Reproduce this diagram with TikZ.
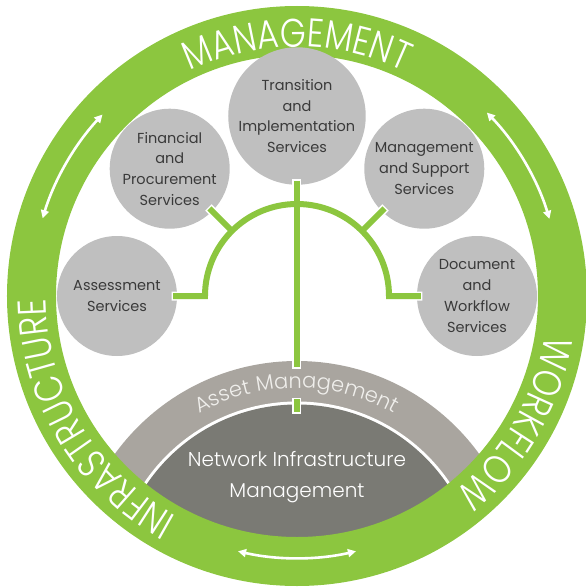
\documentclass[tikz,border=0pt]{standalone}
\usepackage{fontspec}
\setmainfont{Poppins}
\newfontfamily\ringfont{Poppins Light}[FakeStretch=0.83]
\newfontfamily\thinfont{Poppins Light}
\usepackage{tikz}
\usetikzlibrary{arrows.meta,positioning}
\usetikzlibrary{decorations.text}
\definecolor{RingGreen}{HTML}{8CC63F}
\definecolor{BubbleGrey}{HTML}{BFBFBF}
\definecolor{AssetGrey}{HTML}{A9A59F}
\definecolor{CoreGrey}{HTML}{7A7A74}
\definecolor{LabelGrey}{HTML}{3A3A3A}
\definecolor{AssetText}{HTML}{F0EFEC}
\tikzset{
        service/.style={circle, fill=BubbleGrey, minimum size=120pt, inner sep=0pt,
            align=center, text=LabelGrey, font=\fontsize{14.5}{20.7}\selectfont},
        ring arrow/.style={draw=white, line width=2.6pt, >={Triangle[length=8pt,width=8pt]}, <->},
        ring text/.style={decorate, decoration={text along path, text align=center,
            text={|\ringfont\fontsize{40}{40}\selectfont\color{white}|#1}}},
    }

\begin{document}
\begin{tikzpicture}[x = 1pt, y = 1pt]
                \useasboundingbox (-297,-291) rectangle (289,296);
                \coordinate (hub) at (0,0);
                \coordinate (assetc) at (0,-290);
                \coordinate (bandtop) at (0,-71);
                \coordinate (coretop) at (0,-103);
                \coordinate (corein) at (0,-116);
                \begin{scope}
                    \clip (hub) circle[radius=242];
                    \fill[AssetGrey] (assetc) circle[radius=225];
                    \fill[white] (assetc) circle[radius=184.5];
                    \fill[CoreGrey] (assetc) circle[radius=181.5];
                \end{scope}
                \fill[RingGreen, even odd rule] (hub) circle[radius=290] circle[radius=241];
                \path[ring text=MANAGEMENT] (165:249) arc[start angle=165, end angle=15, radius=249];
                \path[ring text=INFRASTRUCTURE] (286:251) arc[start angle=286, end angle=136, radius=251];
                \path[ring text=WORKFLOW] (47:251) arc[start angle=47, end angle=-107, radius=251];
                \draw[ring arrow] (137:266) arc[start angle=137, end angle=163, radius=266];
                \draw[ring arrow] (17:264) arc[start angle=17, end angle=44, radius=264];
                \draw[ring arrow] (257:262) arc[start angle=257, end angle=283, radius=262];
                \node[service] (trans) at (90:180) {Transition\\and\\Implementation\\Services};
                \node[service] (fin) at (135:180) {Financial\\and\\Procurement\\Services};
                \node[service] (mgmt) at (45:180) {Management\\and Support\\Services};
                \node[service] (assess) at (180:180) {Assessment\\Services};
                \node[service] (docwf) at (0:180) {Document\\and\\Workflow\\Services};
                \path[decorate, decoration={text along path, text align=center,
                    text={|\thinfont\fontsize{21}{21}\selectfont\color{AssetText}|Asset Management}}]
                    ([shift={(150:198)}]assetc) arc[start angle=150, end angle=30, radius=198];
                \node[text=white, align=center, font=\thinfont\fontsize{20}{31}\selectfont] (core) at (0,-181) {Network Infrastructure\\Management};
                \foreach \lc/\lw/\ext in {white/9/1.5, RingGreen/6/0}
                {
                    \draw[\lc, line width=\lw, shorten <=-\ext, shorten >=-\ext]
                        ([xshift=-4]assess.east) -- ([xshift=-92]hub)
                        arc[start angle=180, end angle=0, radius=92] -- ([xshift=4]docwf.west);
                    \draw[\lc, line width=\lw, shorten <=-\ext, shorten >=-\ext]
                        ([shift={(135:4)}]fin.south east) -- ([shift={(135:92)}]hub);
                    \draw[\lc, line width=\lw, shorten <=-\ext, shorten >=-\ext]
                        ([shift={(45:4)}]mgmt.south west) -- ([shift={(45:92)}]hub);
                    \draw[\lc, line width=\lw, shorten <=-\ext, shorten >=-\ext]
                        ([yshift=4]trans.south) -- (bandtop);
                    \draw[\lc, line width=\lw, shorten <=-\ext, shorten >=-\ext]
                        (coretop) -- (corein);
                }
            \end{tikzpicture}
\end{document}
